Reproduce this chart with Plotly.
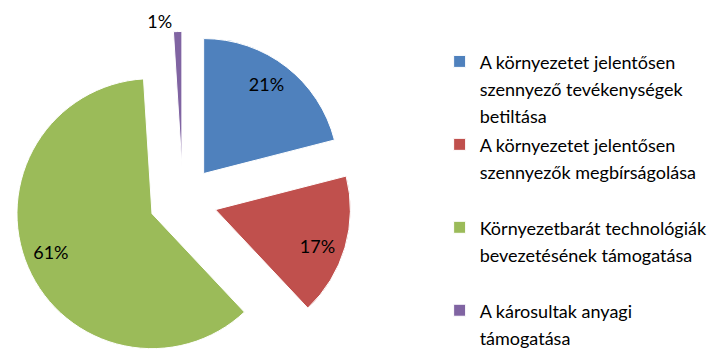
import plotly.graph_objects as go

# ---- data ----
categories = [
    ["A környezetet jelentősen", "szennyező tevékenységek", "betiltása"],
    ["A környezetet jelentősen", "szennyezők megbírságolása"],
    ["Környezetbarát technológiák", "bevezetésének támogatása"],
    ["A károsultak anyagi", "támogatása"],
]
shares = [21, 17, 61, 1]
colors = ["#4F81BD", "#C0504D", "#9BBB59", "#8064A2"]
pad_lines = [0, 1, 1, 0]

NB = "\u00a0"
# label layout tweaks inside each slice (padding only nudges where the text sits)
text_templates = [
    NB * 5 + "%{percent}<br>" + NB + "<br>" + NB,
    NB + "<br>" + NB * 7 + "%{percent}",
    NB + "<br>" + "%{percent}" + NB * 17,
    "%{percent}",
]


def legend_label(lines, pad):
    body = "<br>".join(f"<span style='font-size:18px'>{ln}</span>" for ln in lines)
    return body + "<br> " * pad


labels = [legend_label(l, p) for l, p in zip(categories, pad_lines)]

fig = go.Figure(
    go.Pie(
        labels=labels,
        values=shares,
        sort=False,
        direction="clockwise",
        rotation=0,
        marker=dict(colors=colors, line=dict(color="white", width=1)),
        pull=0.25,
        texttemplate=text_templates,
        textposition=["auto", "auto", "inside", "auto"],
        insidetextorientation="horizontal",
        textfont=dict(family="Lato", size=18, color="black"),
        domain=dict(x=[0, 0.484], y=[0, 0.935]),
        hoverinfo="percent",
    )
)
fig.update_layout(
    width=723,
    height=361,
    margin=dict(l=0, r=0, t=0, b=0, autoexpand=False),
    paper_bgcolor="white",
    plot_bgcolor="white",
    font=dict(family="Lato", color="black"),
    showlegend=True,
    legend=dict(
        x=0.597,
        y=0.907,
        xanchor="left",
        yanchor="top",
        valign="top",
        font=dict(family="Lato", size=20.5, color="black"),
        bgcolor="rgba(0,0,0,0)",
    ),
)
fig.write_html("out.html")
